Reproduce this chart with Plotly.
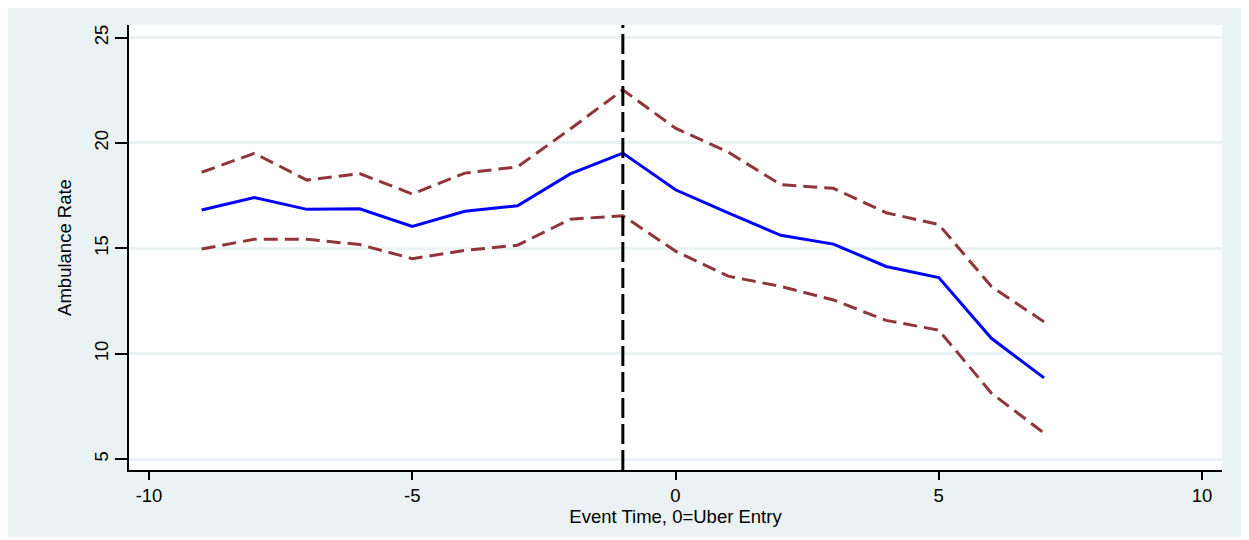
import plotly.graph_objects as go

event_time = [-9, -8, -7, -6, -5, -4, -3, -2, -1, 0, 1, 2, 3, 4, 5, 6, 7]
estimate = [16.82, 17.41, 16.85, 16.88, 16.04, 16.76, 17.02, 18.53, 19.52,
            17.78, 16.68, 15.62, 15.20, 14.14, 13.61, 10.73, 8.85]
upper_ci = [18.61, 19.51, 18.24, 18.55, 17.58, 18.57, 18.87, 20.66, 22.52,
            20.70, 19.57, 18.02, 17.85, 16.69, 16.13, 13.19, 11.51]
lower_ci = [14.97, 15.43, 15.43, 15.18, 14.51, 14.90, 15.15, 16.38, 16.55,
            14.87, 13.68, 13.19, 12.55, 11.58, 11.12, 8.13, 6.23]
entry_line_x = -1
x_ticks = [-10, -5, 0, 5, 10]
x_tick_labels = ["-10", "-5", "0", "5", "10"]
y_ticks = [5, 10, 15, 20, 25]
y_tick_labels = ["5", "10", "15", "20", "25"]

BG = "#EAF2F3"
RED = "#90353B"
FONT = "Liberation Sans, Arial, sans-serif"

# page body has an 8px margin
W, H = 1235, 529
L, R, T, B = 121, 21, 17, 67

fig = go.Figure()
fig.add_trace(go.Scatter(x=event_time, y=upper_ci, mode="lines",
                         line=dict(color=RED, width=3, dash="14px,7px"),
                         showlegend=False, hoverinfo="skip"))
fig.add_trace(go.Scatter(x=event_time, y=lower_ci, mode="lines",
                         line=dict(color=RED, width=3, dash="14px,7px"),
                         showlegend=False, hoverinfo="skip"))
fig.add_trace(go.Scatter(x=event_time, y=estimate, mode="lines",
                         line=dict(color="#0000FF", width=3),
                         showlegend=False))

fig.add_shape(type="line", xref="x", yref="paper", x0=entry_line_x, x1=entry_line_x,
              y0=0, y1=1, line=dict(color="black", width=3, dash="20px,6px"))

fig.update_layout(
    width=W, height=H,
    margin=dict(l=L, r=R, t=T, b=B),
    paper_bgcolor=BG,
    plot_bgcolor="white",
    font=dict(family=FONT, size=18.5, color="black"),
)
fig.update_xaxes(range=[-10.38, 10.38], tickvals=x_ticks, ticktext=x_tick_labels,
                 ticks="outside", ticklen=8, tickwidth=2, tickcolor="black",
                 showline=True, linecolor="black", linewidth=2,
                 showgrid=False, zeroline=False,
                 title=dict(text="Event Time, 0=Uber Entry", standoff=0,
                            font=dict(size=18.5)))
fig.update_yaxes(range=[4.48, 25.6], tickvals=y_ticks, ticktext=y_tick_labels,
                 ticks="outside", ticklen=12, tickwidth=2, tickcolor="black",
                 tickangle=-90,
                 showline=True, linecolor="black", linewidth=2,
                 showgrid=True, gridcolor=BG, gridwidth=3, zeroline=False,
                 title=dict(text="Ambulance Rate", standoff=14,
                            font=dict(size=18.5)))

fig.write_html("out.html")
